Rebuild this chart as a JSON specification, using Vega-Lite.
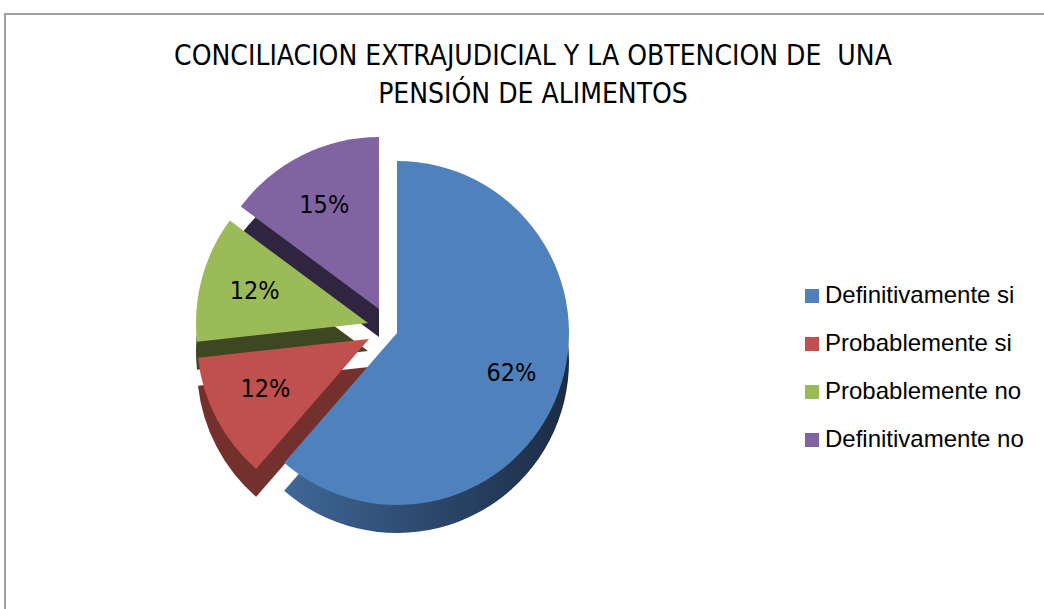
{
  "$schema": "https://vega.github.io/schema/vega-lite/v6.json",
  "width": 1100,
  "height": 700,
  "autosize": {"type": "none"},
  "padding": {"left": 5, "top": 14, "right": 0, "bottom": 0},
  "background": "white",
  "view": {"stroke": "#a0a0a0", "strokeWidth": 1.5},
  "config": {
    "font": "Liberation Sans",
    "legend": {
      "orient": "none",
      "legendX": 795,
      "legendY": 270,
      "title": null,
      "labelFont": "Liberation Sans",
      "labelFontSize": 24,
      "labelColor": "black",
      "labelLimit": 400,
      "symbolType": "square",
      "symbolSize": 196,
      "symbolStrokeWidth": 0,
      "rowPadding": 24,
      "labelOffset": 1
    }
  },
  "title": {
    "text": ["CONCILIACION EXTRAJUDICIAL Y LA OBTENCION DE \u00a0UNA", "PENSIÓN DE ALIMENTOS"],
    "font": "DejaVu Sans Condensed, Liberation Sans",
    "fontSize": 28,
    "fontWeight": "normal",
    "color": "black",
    "lineHeight": 38,
    "anchor": "middle",
    "dx": -22,
    "offset": -96
  },
  "data": {
    "values": [
      {"categoria": "Definitivamente si", "valor": 62, "orden": 1, "etiqueta": "62%"},
      {"categoria": "Probablemente si", "valor": 12, "orden": 2, "etiqueta": "12%"},
      {"categoria": "Probablemente no", "valor": 12, "orden": 3, "etiqueta": "12%"},
      {"categoria": "Definitivamente no", "valor": 15, "orden": 4, "etiqueta": "15%"}
    ]
  },
  "transform": [
    {"stack": "valor", "groupby": [], "sort": [{"field": "orden", "order": "ascending"}], "as": ["v0", "v1"]}
  ],
  "layer": [
    {
      "mark": {"type": "rect", "fill": null, "stroke": "#a0a0a0", "strokeWidth": 1.5},
      "encoding": {}
    },
    {
      "transform": [{"filter": "datum.orden == 1"}],
      "mark": {"type": "arc", "radius": 172, "xOffset": -158, "yOffset": -3,
        "color": {"gradient": "linear", "x1": 0, "x2": 1, "y1": 0, "y2": 0,
          "stops": [{"offset": 0, "color": "#3f6797"}, {"offset": 1, "color": "#1b2b44"}]}},
      "encoding": {
        "theta": {"field": "v0", "type": "quantitative", "scale": {"domain": [0, 101]}},
        "theta2": {"field": "v1"}
      }
    },
    {
      "transform": [{"filter": "datum.orden == 2"}],
      "mark": {"type": "arc", "radius": 172, "xOffset": -186, "yOffset": 3, "color": "#74302d"},
      "encoding": {
        "theta": {"field": "v0", "type": "quantitative", "scale": {"domain": [0, 101]}},
        "theta2": {"field": "v1"}
      }
    },
    {
      "transform": [{"filter": "datum.orden == 3"}],
      "mark": {"type": "arc", "radius": 172, "xOffset": -187, "yOffset": -13, "color": "#3d4721"},
      "encoding": {
        "theta": {"field": "v0", "type": "quantitative", "scale": {"domain": [0, 101]}},
        "theta2": {"field": "v1"}
      }
    },
    {
      "transform": [{"filter": "datum.orden == 4"}],
      "mark": {"type": "arc", "radius": 172, "xOffset": -176, "yOffset": -27, "color": "#2f2540"},
      "encoding": {
        "theta": {"field": "v0", "type": "quantitative", "scale": {"domain": [0, 101]}},
        "theta2": {"field": "v1"}
      }
    },
    {
      "transform": [{"filter": "datum.orden == 1"}],
      "mark": {"type": "arc", "radius": 172, "xOffset": -158, "yOffset": -31},
      "encoding": {
        "theta": {"field": "v0", "type": "quantitative", "scale": {"domain": [0, 101]}},
        "theta2": {"field": "v1"},
        "color": {"field": "categoria", "type": "nominal",
          "scale": {"domain": ["Definitivamente si", "Probablemente si", "Probablemente no", "Definitivamente no"],
                    "range": ["#4f81bd", "#c0504d", "#9bbb59", "#8064a2"]}}
      }
    },
    {
      "transform": [{"filter": "datum.orden == 2"}],
      "mark": {"type": "arc", "radius": 172, "xOffset": -186, "yOffset": -25},
      "encoding": {
        "theta": {"field": "v0", "type": "quantitative", "scale": {"domain": [0, 101]}},
        "theta2": {"field": "v1"},
        "color": {"field": "categoria", "type": "nominal",
          "scale": {"domain": ["Definitivamente si", "Probablemente si", "Probablemente no", "Definitivamente no"],
                    "range": ["#4f81bd", "#c0504d", "#9bbb59", "#8064a2"]}}
      }
    },
    {
      "transform": [{"filter": "datum.orden == 3"}],
      "mark": {"type": "arc", "radius": 172, "xOffset": -187, "yOffset": -41},
      "encoding": {
        "theta": {"field": "v0", "type": "quantitative", "scale": {"domain": [0, 101]}},
        "theta2": {"field": "v1"},
        "color": {"field": "categoria", "type": "nominal",
          "scale": {"domain": ["Definitivamente si", "Probablemente si", "Probablemente no", "Definitivamente no"],
                    "range": ["#4f81bd", "#c0504d", "#9bbb59", "#8064a2"]}}
      }
    },
    {
      "transform": [{"filter": "datum.orden == 4"}],
      "mark": {"type": "arc", "radius": 172, "xOffset": -176, "yOffset": -55},
      "encoding": {
        "theta": {"field": "v0", "type": "quantitative", "scale": {"domain": [0, 101]}},
        "theta2": {"field": "v1"},
        "color": {"field": "categoria", "type": "nominal",
          "scale": {"domain": ["Definitivamente si", "Probablemente si", "Probablemente no", "Definitivamente no"],
                    "range": ["#4f81bd", "#c0504d", "#9bbb59", "#8064a2"]}}
      }
    },
    {
      "mark": {"type": "text", "radius": 135, "font": "DejaVu Sans Condensed, Liberation Sans", "fontSize": 25, "color": "black", "xOffset": -170, "yOffset": -38},
      "encoding": {
        "theta": {"field": "valor", "type": "quantitative", "stack": true, "scale": {"domain": [0, 101]}},
        "order": {"field": "orden"},
        "text": {"field": "etiqueta"}
      }
    }
  ]
}
